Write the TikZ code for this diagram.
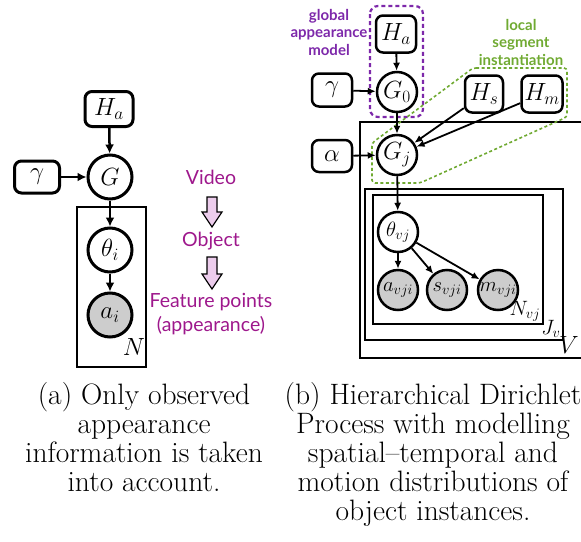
\documentclass[tikz,border=0pt]{standalone}
\usepackage{fontspec}
\newfontfamily\labfont{Lato}
\usetikzlibrary{arrows.meta}
\definecolor{vpurple}{RGB}{158,24,140}
\definecolor{gpurple}{RGB}{125,40,170}
\definecolor{lgreen}{RGB}{112,170,50}
\definecolor{pinkfill}{RGB}{236,204,236}
\definecolor{obsgray}{RGB}{205,205,205}
\begin{document}
\begin{tikzpicture}[x=1pt,y=-1pt,
  hypA/.style={draw,rounded corners=7pt,line width=3pt,fill=white,inner sep=0pt,minimum height=35pt,font=\fontsize{27}{30}\selectfont},
  varA/.style={draw,circle,line width=3pt,fill=white,inner sep=0pt,minimum size=44pt,font=\fontsize{27}{30}\selectfont},
  hypB/.style={draw,rounded corners=7pt,line width=2.5pt,fill=white,inner sep=0pt,minimum height=37pt,font=\fontsize{24}{28}\selectfont},
  varB/.style={draw,circle,line width=2.5pt,fill=white,inner sep=0pt,minimum size=40pt,font=\fontsize{24}{28}\selectfont},
  obsB/.style={varB,fill=obsgray,font=\fontsize{19.5}{22}\selectfont},
  plateA/.style={draw,line width=1.8pt},
  plateB/.style={draw,line width=1.3pt},
  arrA/.style={-{Latex[length=9pt,width=9pt]},line width=2.5pt},
  arrB/.style={-{Latex[length=8pt,width=7pt]},line width=1.8pt},
  vtext/.style={text=vpurple,font=\labfont\fontsize{19.5}{23}\selectfont,inner sep=0pt,align=center},
  blockarr/.style={draw=black,fill=pinkfill,line width=1.2pt,line join=miter},
  captxt/.style={align=center,inner sep=0pt,anchor=north,font=\fontsize{29.5}{29}\selectfont},
  annot/.style={font=\labfont\bfseries\fontsize{15}{17.5}\selectfont,align=center,inner sep=0pt}
]
\useasboundingbox (0,0) rectangle (581,541);

% ---------------- (a) ----------------
\draw[plateA] (77,207) rectangle (146,367);
\node[hypA,minimum width=48pt] (HaA) at (109,109) {$H_a$};
\node[varA] (GA) at (110,177) {$G$};
\node[hypA,minimum width=45pt,minimum height=32pt] (gamA) at (37,177) {$\gamma$};
\node[varA] (thA) at (110,250) {$\theta_i$};
\node[varA,fill=obsgray] (aA) at (110,315) {$a_i$};
\node[font=\fontsize{23}{26}\selectfont,inner sep=0pt] (NA) at (134,347) {$N$};
\draw[arrA] (HaA) -- (GA);
\draw[arrA] (gamA) -- (GA);
\draw[arrA] (GA) -- (thA);
\draw[arrA] (thA) -- (aA);

% purple hierarchy text
\node[vtext] (vid) at (211,177) {Video};
\node[vtext] (obj) at (211,241) {Object};
\node[vtext] (feat) at (211,314) {Feature points\\[1pt](appearance)};
\draw[blockarr] (207,197) -- (217,197) -- (217,212) -- (222,212) -- (212,227) -- (202,212) -- (207,212) -- cycle;
\draw[blockarr] (207,257) -- (217,257) -- (217,274) -- (222,274) -- (212,289) -- (202,274) -- (207,274) -- cycle;

% ---------------- (b) ----------------
\draw[plateB] (360,122) rectangle (600,358);
\draw[plateB] (365,189) rectangle (563,340);
\draw[plateB] (373,195) rectangle (543,324);
\node[font=\fontsize{25}{28}\selectfont,inner sep=0pt] (Vl) at (569,345) {$V$};
\node[font=\fontsize{21}{24}\selectfont,inner sep=0pt] (Jl) at (551,329) {$J_v$};
\node[font=\fontsize{21}{24}\selectfont,inner sep=0pt] (Nl) at (525,311) {$N_{vj}$};

\draw[gpurple,line width=2.2pt,dash pattern=on 4pt off 3pt,rounded corners=8pt] (370,6) rectangle (423,117);
\draw[lgreen,line width=1.6pt,dash pattern=on 3pt off 2.5pt,rounded corners=3pt]
  (473,68) -- (567,68) -- (567,117) -- (420,183) -- (372,183) -- (372,143) -- cycle;

\node[annot,text=gpurple] (glob) at (329,32) {global\\appearance\\model};
\node[annot,text=lgreen] (loc) at (521,42) {local\\segment\\instantiation};

\node[hypB,minimum width=40pt] (HaB) at (396,34) {$H_a$};
\node[varB] (G0) at (397,92) {$G_0$};
\node[hypB,minimum width=40pt,minimum height=33pt] (gamB) at (332,90) {$\gamma$};
\node[hypB,minimum width=38pt] (Hs) at (484,94) {$H_s$};
\node[hypB,minimum width=41pt] (Hm) at (542,94) {$H_m$};
\node[hypB,minimum width=40pt,minimum height=32pt] (alB) at (332,156) {$\alpha$};
\node[varB] (Gj) at (397,155) {$G_j$};
\node[varB,font=\fontsize{22}{26}\selectfont] (thB) at (398,232) {$\theta_{vj}$};
\node[obsB] (aB) at (398,290) {$a_{vji}$};
\node[obsB] (sB) at (447,290) {$s_{vji}$};
\node[obsB] (mB) at (498,290) {$m_{vji}$};

\draw[arrB] (HaB) -- (G0);
\draw[arrB] (gamB) -- (G0);
\draw[arrB] (G0) -- (Gj);
\draw[arrB] (alB) -- (Gj);
\draw[arrB] (Hs) -- (Gj);
\draw[arrB] (Hm) -- (Gj);
\draw[arrB] (Gj) -- (thB);
\draw[arrB] (thB) -- (aB);
\draw[arrB] (thB) -- (sB);
\draw[arrB] (thB) -- (mB);

% ---------------- captions ----------------
\node[captxt] (capA) at (144,382) {(a) Only observed\\appearance\\information is taken\\into account.};
\node[captxt] (capB) at (433,382) {(b) Hierarchical Dirichlet\\Process with modelling\\spatial--temporal and\\motion distributions of\\object instances.};
\end{tikzpicture}
\end{document}
